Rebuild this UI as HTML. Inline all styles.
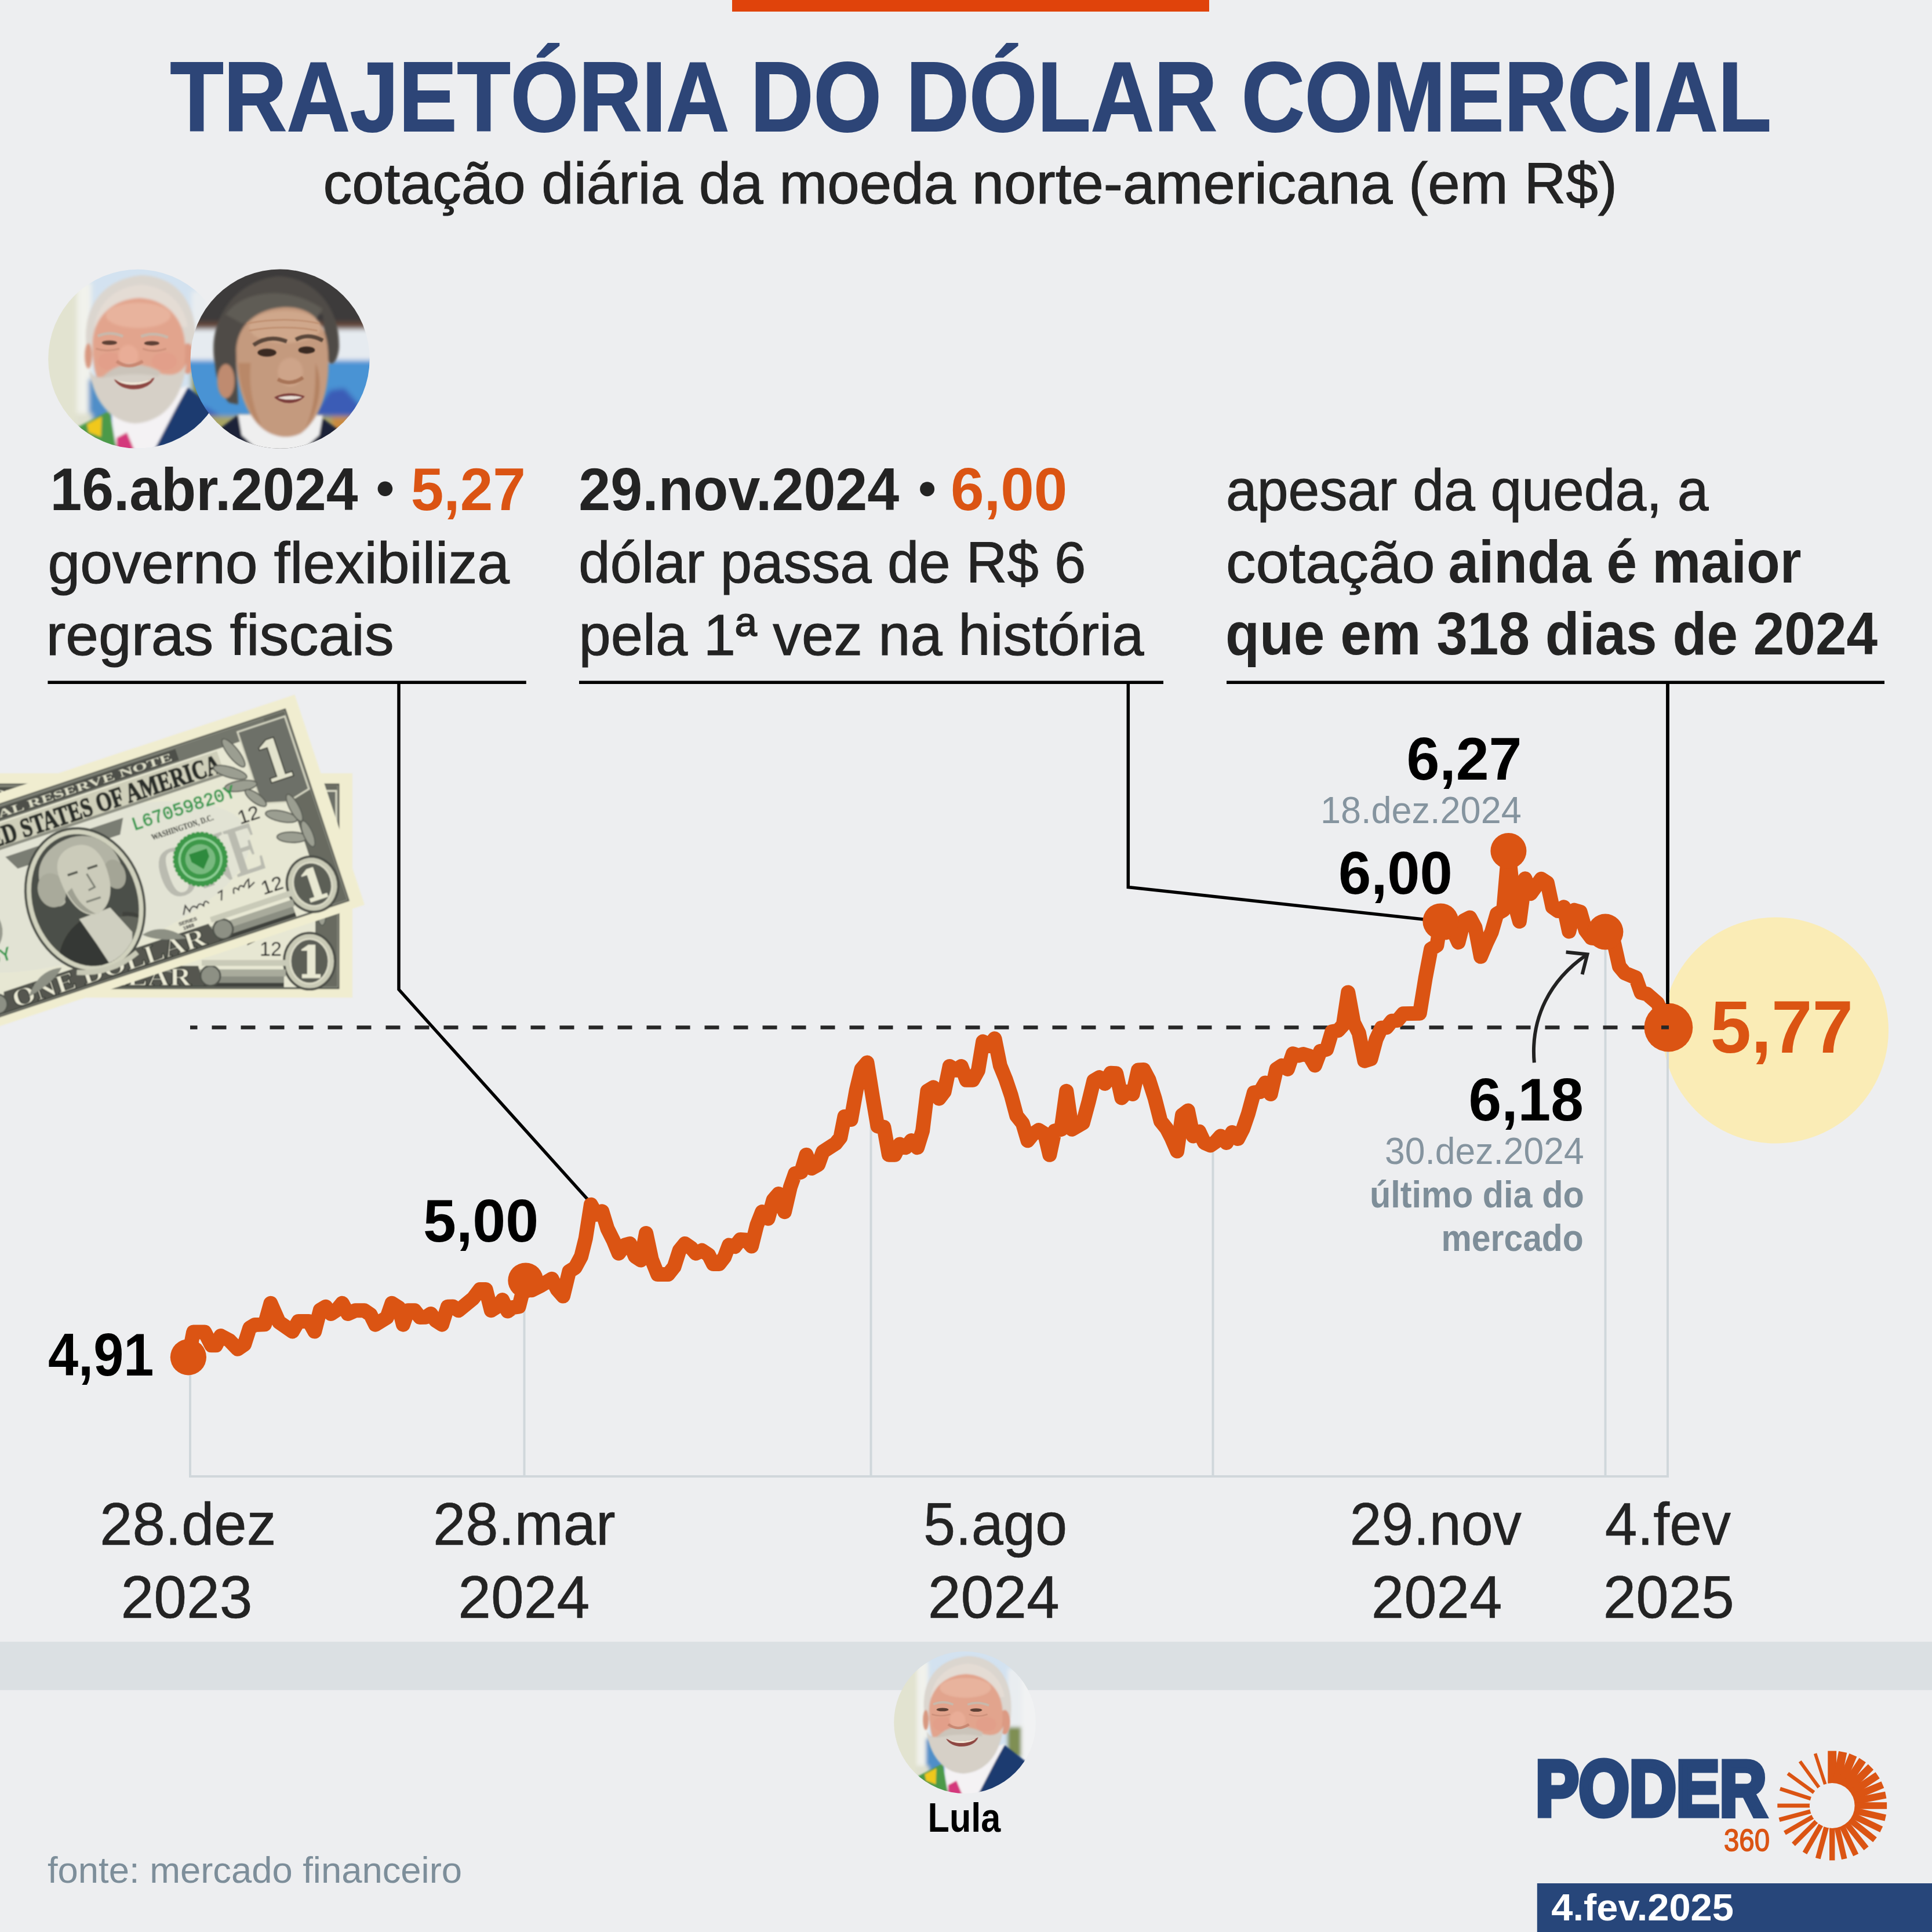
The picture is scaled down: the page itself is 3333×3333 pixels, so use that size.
<!DOCTYPE html>
<html><head><meta charset="utf-8"><title>Trajetória do dólar comercial</title><style>html,body{margin:0;padding:0;background:#edeef0;overflow:hidden}svg{display:block}</style></head><body><svg width="3333" height="3333" viewBox="0 0 3333 3333" font-family="Liberation Sans, sans-serif">
<defs>
<clipPath id="cc"><circle r="1"/></clipPath>
<filter id="b1" x="-20%" y="-20%" width="140%" height="140%"><feGaussianBlur stdDeviation="0.035"/></filter>
<filter id="b2" x="-20%" y="-20%" width="140%" height="140%"><feGaussianBlur stdDeviation="0.012"/></filter>
<filter id="bb" x="-5%" y="-5%" width="110%" height="110%"><feGaussianBlur stdDeviation="0.9"/></filter>
<filter id="pb20" x="-20%" y="-20%" width="140%" height="140%"><feGaussianBlur stdDeviation="14"/></filter>
<filter id="pb10" x="-20%" y="-20%" width="140%" height="140%"><feGaussianBlur stdDeviation="7"/></filter>
<filter id="pb4" x="-20%" y="-20%" width="140%" height="140%"><feGaussianBlur stdDeviation="3"/></filter>


<g id="lula">
 <g clip-path="url(#cc)">
 <g transform="scale(0.002012) translate(-572,-577)">
  <g filter="url(#pb20)">
   <rect x="0" y="0" width="1200" height="1200" fill="#d3e2f0"/>
   <rect x="0" y="0" width="250" height="1200" fill="#e2e3d0"/>
   <rect x="235" y="150" width="80" height="900" fill="#f1f2ec"/>
   <rect x="870" y="200" width="250" height="520" fill="#e9edf0"/>
   <rect x="870" y="610" width="100" height="210" fill="#7f8f52"/>
   <rect x="965" y="200" width="120" height="700" fill="#f1f2f3"/>
   <rect x="300" y="690" width="130" height="230" fill="#4f8ec8"/>
   <rect x="230" y="880" width="90" height="120" fill="#dfe0cf"/>
  </g>
  <g filter="url(#pb10)">
   <!-- hair -->
   <path d="M292 540 C255 320 350 140 590 112 C815 118 915 300 892 540 C860 620 330 620 292 540Z" fill="#dbd6cf"/>
   <path d="M330 400 C350 250 470 170 590 165 C720 170 830 260 850 400Z" fill="#e4dcd4"/>
   <!-- ear -->
   <ellipse cx="850" cy="575" rx="38" ry="85" fill="#dc9a83"/>
   <ellipse cx="298" cy="560" rx="20" ry="70" fill="#d89880"/>
   <!-- face -->
   <path d="M322 520 C310 360 420 245 580 238 C735 245 845 360 836 540 C835 700 760 860 570 880 C400 860 322 700 322 520Z" fill="#e2a48d"/>
   <ellipse cx="575" cy="335" rx="180" ry="70" fill="#e8b39d"/>
   <ellipse cx="420" cy="590" rx="70" ry="50" fill="#e29f8a"/>
   <ellipse cx="720" cy="590" rx="70" ry="50" fill="#e29f8a"/>
   <ellipse cx="520" cy="560" rx="55" ry="60" fill="#e9ad97"/>
   <!-- suit -->
   <path d="M850 735 L1010 860 L1100 1100 L640 1100 Z" fill="#1c3a70"/>
   <!-- shirt -->
   <path d="M430 880 L850 725 L660 1090 L450 1090 Z" fill="#f4f2f4"/>
   <!-- sash -->
   <path d="M230 960 L415 865 L455 1080 L300 1010 Z" fill="#4b9a48"/>
   <path d="M290 940 L372 897 L368 1010 L300 985 Z" fill="#f0c81e"/>
   <!-- tie -->
   <path d="M455 1015 L512 985 L555 1090 L455 1090 Z" fill="#d4387c"/>
   <!-- beard -->
   <path d="M305 640 C320 800 420 930 560 935 C720 925 820 800 842 600 C800 700 700 660 640 640 C560 615 470 620 420 650 C370 690 330 690 305 640Z" fill="#d6d0c7"/>
   <path d="M420 660 C480 610 600 610 690 660 C600 640 500 645 420 660Z" fill="#cbc4ba" stroke="#cbc4ba" stroke-width="30"/>
  </g>
  <g filter="url(#pb4)">
   <path d="M440 690 C500 720 600 715 665 680 C640 760 480 770 440 690Z" fill="#8e4742"/>
   <path d="M455 695 C510 715 590 712 650 688 C620 725 500 735 455 695Z" fill="#f3ead9"/>
   <ellipse cx="415" cy="487" rx="42" ry="12" fill="#5d4034"/>
   <ellipse cx="650" cy="490" rx="42" ry="12" fill="#5d4034"/>
   <path d="M350 450 Q420 420 490 452" stroke="#c9b8aa" stroke-width="16" fill="none"/>
   <path d="M590 452 Q660 425 740 458" stroke="#c9b8aa" stroke-width="16" fill="none"/>
   <path d="M455 590 Q520 640 600 590" stroke="#c98872" stroke-width="18" fill="none"/>
   <path d="M340 520 Q400 540 470 520 M600 520 Q660 545 730 520" stroke="#cf927c" stroke-width="10" fill="none"/>
  </g>
 </g>
 </g>
</g>


<g id="haddad">
 <g clip-path="url(#cc)">
 <g transform="scale(0.00201) translate(-1362.5,-577)">
  <g filter="url(#pb20)">
   <rect x="800" y="0" width="1200" height="1200" fill="#3d3a3b"/>
   <rect x="800" y="375" width="1200" height="40" fill="#6a4c3c"/>
   <rect x="800" y="412" width="1200" height="175" fill="#e6ebf0"/>
   <rect x="800" y="585" width="1200" height="330" fill="#4a93d4"/>
   <path d="M1560 860 L1640 750 L1720 740 L1800 830 L1860 860 L1860 920 L1560 920Z" fill="#3a5cb6"/>
   <path d="M880 830 L960 850 L1040 900 L880 920Z" fill="#3a5cb6"/>
   <rect x="800" y="895" width="1200" height="80" fill="#a8a464"/>
   <rect x="1650" y="900" width="200" height="80" fill="#c98a40"/>
  </g>
  <g filter="url(#pb10)">
   <!-- suit -->
   <path d="M980 1000 L1140 880 L1300 1100 L900 1100Z" fill="#1a2238"/>
   <path d="M1740 1010 L1590 900 L1500 1100 L1800 1100Z" fill="#1a2238"/>
   <!-- shirt -->
   <path d="M1130 885 L1600 890 L1580 1000 L1470 1100 L1260 1100 L1150 1000Z" fill="#efefef"/>
   <!-- hair -->
   <path d="M1000 600 C960 380 1090 150 1350 118 C1560 125 1700 300 1690 520 C1680 600 1640 640 1620 560 L1600 330 L1180 330 L1120 600 L1130 830 L1080 820 C1020 760 1010 680 1000 600Z" fill="#4f4c47"/>
   <path d="M1060 330 C1150 200 1400 160 1600 300 L1560 360 L1150 380Z" fill="#5f5b54"/>
   <!-- ear -->
   <ellipse cx="1062" cy="700" rx="48" ry="95" fill="#bf8b6f"/>
   <!-- face -->
   <path d="M1120 560 C1110 380 1250 290 1400 290 C1540 290 1630 380 1630 560 C1640 720 1600 900 1480 990 C1400 1030 1300 1010 1230 930 C1150 830 1120 700 1120 560Z" fill="#c49a7e"/>
   <ellipse cx="1390" cy="400" rx="200" ry="90" fill="#cfa78b"/>
   <ellipse cx="1420" cy="650" rx="70" ry="80" fill="#cea489"/>
   <path d="M1130 600 C1140 760 1200 900 1260 950 C1200 820 1190 700 1200 600Z" fill="#b98868"/>
   <path d="M1560 600 C1600 700 1590 850 1500 970 C1560 850 1560 720 1560 600Z" fill="#b38262"/>
  </g>
  <g filter="url(#pb4)">
   <ellipse cx="1290" cy="542" rx="52" ry="22" fill="#3b2a22"/>
   <ellipse cx="1510" cy="528" rx="46" ry="20" fill="#3b2a22"/>
   <path d="M1215 500 Q1300 440 1400 480" stroke="#5a473b" stroke-width="22" fill="none"/>
   <path d="M1450 470 Q1520 430 1600 475" stroke="#5a473b" stroke-width="22" fill="none"/>
   <path d="M1330 790 C1390 760 1450 765 1500 785 C1460 830 1380 835 1330 790Z" fill="#7a3d3a"/>
   <path d="M1350 792 C1400 778 1450 780 1485 790 C1450 805 1390 808 1350 792Z" fill="#eadfd6"/>
   <path d="M1350 690 Q1420 730 1490 680" stroke="#a87458" stroke-width="20" fill="none"/>
   <path d="M1180 380 Q1390 340 1580 380 M1190 420 Q1390 385 1570 420" stroke="#bd8d6e" stroke-width="8" fill="none"/>
  </g>
 </g>
 </g>
</g>


<g id="bill">
 <rect width="900" height="382" fill="#f0edd0"/>
 <rect x="24" y="19" width="852" height="347" fill="#e7e7d3" stroke="#50534c" stroke-width="3"/>
 <!-- faint center ghost -->
 <ellipse cx="450" cy="200" rx="300" ry="120" fill="#e2e3d4"/>
 <!-- top band -->
 <rect x="26" y="21" width="848" height="26" fill="#73766c"/>
 <rect x="225" y="24" width="450" height="20" fill="#4d5049"/>
 <text x="235" y="41" font-size="19" font-weight="700" fill="#dedec8" textLength="430" lengthAdjust="spacingAndGlyphs" font-family="Liberation Serif,serif">FEDERAL RESERVE NOTE</text>
 <!-- USA title -->
 <rect x="150" y="50" width="592" height="40" fill="#cfcfba"/>
 <text x="152" y="87" font-size="46" font-weight="700" fill="#2b2e29" stroke="#2b2e29" stroke-width="1.6" textLength="588" lengthAdjust="spacingAndGlyphs" font-family="Liberation Serif,serif">THE UNITED STATES OF AMERICA</text>
 <rect x="150" y="89" width="592" height="5" fill="#8f9184"/>
 <!-- left/right strips -->
 <rect x="26" y="21" width="38" height="343" fill="#676a61"/>
 <rect x="836" y="21" width="38" height="343" fill="#676a61"/>
 <!-- cartouches -->
 <path d="M786 30 h86 v132 l-42 10 l-44 -12 z" fill="#6d7067" stroke="#d8d8c4" stroke-width="3"/>
 <path d="M114 30 h-86 v132 l42 10 l44 -12 z" fill="#6d7067" stroke="#d8d8c4" stroke-width="3"/>
 <path d="M812 68 l16 -10 h14 v66 h12 v8 h-40 v-8 h12 v-52 h-14z" fill="#e3e3cd" stroke="#3c3f39" stroke-width="2"/>
 <path d="M60 68 l16 -10 h14 v66 h12 v8 h-40 v-8 h12 v-52 h-14z" fill="#e3e3cd" stroke="#3c3f39" stroke-width="2"/>
 <!-- leaves -->
 <g fill="#9b9e91" stroke="#5b5e56" stroke-width="2">
  <ellipse cx="768" cy="62" rx="9" ry="30" transform="rotate(-20 768 62)"/>
  <ellipse cx="752" cy="92" rx="9" ry="30" transform="rotate(-55 752 92)"/>
  <ellipse cx="762" cy="120" rx="9" ry="28" transform="rotate(-80 762 120)"/>
  <ellipse cx="780" cy="148" rx="8" ry="22" transform="rotate(-35 780 148)"/>
  <ellipse cx="812" cy="192" rx="9" ry="28" transform="rotate(-60 812 192)"/>
  <ellipse cx="838" cy="185" rx="8" ry="26" transform="rotate(-10 838 185)"/>
  <ellipse cx="818" cy="232" rx="9" ry="26" transform="rotate(-70 818 232)"/>
  <ellipse cx="846" cy="235" rx="8" ry="24" transform="rotate(-5 846 235)"/>
  <ellipse cx="132" cy="62" rx="9" ry="30" transform="rotate(20 132 62)"/>
  <ellipse cx="148" cy="92" rx="9" ry="30" transform="rotate(55 148 92)"/>
  <ellipse cx="88" cy="192" rx="9" ry="28" transform="rotate(60 88 192)"/>
  <ellipse cx="82" cy="232" rx="9" ry="26" transform="rotate(70 82 232)"/>
 </g>
 <!-- corner ovals -->
 <ellipse cx="826" cy="320" rx="44" ry="48" fill="#c9cab6" stroke="#4b4e47" stroke-width="4"/>
 <ellipse cx="826" cy="320" rx="33" ry="38" fill="#5b5e56" stroke="#dcdcc8" stroke-width="3"/>
 <path d="M812 300 l12 -8 h12 v50 h9 v7 h-32 v-7 h9 v-40 h-10z" fill="#e8e8d2"/>
 <ellipse cx="74" cy="320" rx="44" ry="48" fill="#c9cab6" stroke="#4b4e47" stroke-width="4"/>
 <ellipse cx="74" cy="320" rx="33" ry="38" fill="#5b5e56" stroke="#dcdcc8" stroke-width="3"/>
 <path d="M60 300 l12 -8 h12 v50 h9 v7 h-32 v-7 h9 v-40 h-10z" fill="#e8e8d2"/>
 <!-- bottom band -->
 <rect x="118" y="340" width="664" height="24" fill="#8b8e82"/>
 <rect x="600" y="334" width="185" height="12" fill="#a9ab9c"/>
 <rect x="118" y="357" width="664" height="7" fill="#3f423c"/>
 <path d="M262 328 h372 l10 34 h-392z" fill="#54574f"/>
 <text x="272" y="361" font-size="44" font-weight="700" fill="#ecebd6" stroke="#1f211e" stroke-width="1.2" textLength="350" lengthAdjust="spacingAndGlyphs" font-family="Liberation Serif,serif">ONE DOLLAR</text>
 <circle cx="655" cy="345" r="17" fill="#8d9084" stroke="#50534c" stroke-width="3"/>
 <circle cx="245" cy="345" r="17" fill="#8d9084" stroke="#50534c" stroke-width="3"/>
 <!-- ONE ghost -->
 <text x="578" y="268" font-size="128" font-weight="700" fill="#babbb0" textLength="185" lengthAdjust="spacingAndGlyphs" font-family="Liberation Serif,serif">ONE</text>
 <!-- green seal -->
 <circle cx="656" cy="218" r="46" fill="#3c9848" stroke="#3c9848" stroke-width="3" stroke-dasharray="5 3"/>
 <circle cx="656" cy="218" r="36" fill="none" stroke="#8fcf96" stroke-width="4"/>
 <circle cx="656" cy="218" r="26" fill="#78b97f"/>
 <path d="M640 204 h32 v14 l-16 18 l-16 -18z" fill="#2f8a3d"/>
 <!-- black seal left -->
 <circle cx="250" cy="215" r="45" fill="#9a9c90"/>
 <circle cx="250" cy="215" r="30" fill="#c5c6b6"/>
 <!-- serials -->
 <text x="563" y="135" font-size="31" fill="#36984d" stroke="#36984d" stroke-width="0.8" textLength="186" lengthAdjust="spacingAndGlyphs" font-family="Liberation Mono,monospace">L67059820Y</text>
 <text x="108" y="278" font-size="31" fill="#36984d" stroke="#36984d" stroke-width="0.8" textLength="186" lengthAdjust="spacingAndGlyphs" font-family="Liberation Mono,monospace">L67059820Y</text>
 <text x="588" y="161" font-size="15" font-weight="700" fill="#30332e" textLength="112" lengthAdjust="spacingAndGlyphs" font-family="Liberation Serif,serif">WASHINGTON, D.C.</text>
 <text x="740" y="183" font-size="34" fill="#1d1d1d">12</text>
 <text x="740" y="311" font-size="34" fill="#1d1d1d">12</text>
 <text x="128" y="183" font-size="34" fill="#1d1d1d">12</text>
 <path d="M598 300 l8 -14 l4 12 q8 -12 14 -2 q6 -10 12 0 q5 -12 10 -1 m22 2 l6 -16 l-8 2 m26 10 q2 -16 10 -4 q4 -10 10 -2 q6 -8 12 -10 l-4 14 l12 -6" stroke="#2c2c2c" stroke-width="2.2" fill="none"/>
 <text x="585" y="316" font-size="9" font-weight="700" fill="#333">SERIES</text>
 <text x="590" y="325" font-size="9" font-weight="700" fill="#333">1988</text>
 <rect x="640" y="318" width="150" height="10" fill="#c9cab8"/>
 <!-- portrait frame -->
 <path d="M338 108 h214 l-14 26 h-186z" fill="#7a7d73"/>
 <ellipse cx="445" cy="222" rx="100" ry="126" fill="#d0d1bd" stroke="#4a4d46" stroke-width="4"/>
 <ellipse cx="445" cy="222" rx="90" ry="116" fill="#4c4f48"/>
 <clipPath id="ov"><ellipse cx="445" cy="222" rx="90" ry="116"/></clipPath>
 <g clip-path="url(#ov)">
  <!-- coat -->
  <path d="M360 345 C365 290 395 262 430 255 L470 330 L500 262 C530 270 545 290 548 345Z" fill="#34373280"/>
  <path d="M360 345 C365 290 395 262 432 252 L478 345Z" fill="#363934"/>
  <path d="M490 268 C525 272 545 295 548 345 L480 345Z" fill="#62655c"/>
  <!-- jabot -->
  <path d="M425 250 L482 248 L505 300 L490 345 L452 345 L440 300Z" fill="#cfcfc0"/>
  <!-- hair -->
  <path d="M382 190 C372 150 400 112 455 112 C500 114 530 150 522 200 C520 220 500 225 492 210 L480 150 L420 150 L412 215 C400 225 385 215 382 190Z" fill="#b3b4a5"/>
  <ellipse cx="396" cy="188" rx="24" ry="30" fill="#a9aa9b"/>
  <ellipse cx="508" cy="196" rx="18" ry="26" fill="#a4a596"/>
  <!-- face -->
  <path d="M415 170 C415 135 440 125 462 128 C490 132 500 160 497 195 C495 225 480 250 455 252 C430 248 415 215 415 170Z" fill="#cbcbba"/>
  <path d="M430 172 h18 M466 172 h18" stroke="#55584f" stroke-width="4"/>
  <path d="M462 180 l6 26 l-12 2 M446 226 h26" stroke="#777a6f" stroke-width="3" fill="none"/>
  <path d="M420 200 C425 230 440 248 455 250 C440 235 432 220 430 195Z" fill="#9fa092"/>
 </g>
 <!-- laurel at base -->
 <path d="M300 350 q30 -40 70 -30 q-20 20 -70 30z M590 340 q-30 -40 -70 -30 q20 20 70 30z" fill="#8d9084"/>
 <path d="M392 336 q55 22 110 0" stroke="#c8c9b6" stroke-width="9" fill="none"/>
</g>

</defs>
<rect width="3333" height="3333" fill="#edeef0"/>
<rect x="1263" y="0" width="823" height="20" fill="#e0430b"/>
<text x="293.5" y="225.9" font-size="170" font-weight="700" fill="#2d4577" textLength="2762.5" lengthAdjust="spacingAndGlyphs" stroke="#2d4577" stroke-width="2">TRAJETÓRIA DO DÓLAR COMERCIAL</text>
<text x="557.5" y="351.4" font-size="101" font-weight="400" fill="#232323" textLength="2232.5" lengthAdjust="spacingAndGlyphs" stroke="#232323" stroke-width="1.1">cotação diária da moeda norte-americana (em R$)</text>
<use href="#lula" transform="translate(237.6,619.2) scale(154.4)"/>
<use href="#haddad" transform="translate(483.1,619.2) scale(154.6)"/>
<g filter="url(#bb)">
<use href="#bill" transform="translate(-292,1334) scale(1,1.013)"/>
<use href="#bill" transform="translate(508.4,1198.4) rotate(-18.4) translate(-900,0)"/>
</g>
<rect x="0" y="2832.3" width="3333" height="83.4" fill="#dbe0e3"/>
<text x="86.4" y="880.2" font-size="104" font-weight="700" fill="#232323" textLength="531.0" lengthAdjust="spacingAndGlyphs" >16.abr.2024</text>
<circle cx="664.4" cy="843.3" r="12.8" fill="#232323"/>
<text x="708.8" y="880.2" font-size="104" font-weight="700" fill="#db5413" textLength="198.0" lengthAdjust="spacingAndGlyphs" >5,27</text>
<text x="82.4" y="1005.5" font-size="101" font-weight="400" fill="#232323" textLength="796.7" lengthAdjust="spacingAndGlyphs" stroke="#232323" stroke-width="1.1">governo flexibiliza</text>
<text x="79.4" y="1129.6" font-size="101" font-weight="400" fill="#232323" textLength="600.4" lengthAdjust="spacingAndGlyphs" stroke="#232323" stroke-width="1.1">regras fiscais</text>
<text x="998.3" y="880.4" font-size="104" font-weight="700" fill="#232323" textLength="553.0" lengthAdjust="spacingAndGlyphs" >29.nov.2024</text>
<circle cx="1599.6" cy="843.7" r="12.5" fill="#232323"/>
<text x="1640.0" y="880.4" font-size="104" font-weight="700" fill="#db5413" textLength="201.4" lengthAdjust="spacingAndGlyphs" >6,00</text>
<text x="998.3" y="1005" font-size="101" font-weight="400" fill="#232323" textLength="875.0" lengthAdjust="spacingAndGlyphs" stroke="#232323" stroke-width="1.1">dólar passa de R$ 6</text>
<text x="998.5" y="1130" font-size="101" font-weight="400" fill="#232323" textLength="974.9" lengthAdjust="spacingAndGlyphs" stroke="#232323" stroke-width="1.1">pela 1ª vez na história</text>
<text x="2115.0" y="879.6" font-size="101" font-weight="400" fill="#232323" textLength="832.6" lengthAdjust="spacingAndGlyphs" stroke="#232323" stroke-width="1.1">apesar da queda, a</text>
<text x="2115.0" y="1004.8" font-size="101" font-weight="400" fill="#232323" textLength="360.5" lengthAdjust="spacingAndGlyphs" stroke="#232323" stroke-width="1.1">cotação</text>
<text x="2498.5" y="1004.8" font-size="104" font-weight="700" fill="#232323" textLength="608.9" lengthAdjust="spacingAndGlyphs" >ainda é maior</text>
<text x="2114.0" y="1129" font-size="104" font-weight="700" fill="#232323" textLength="1125.2" lengthAdjust="spacingAndGlyphs" >que em 318 dias de 2024</text>
<g stroke="#000" stroke-width="5.5" fill="none">
<path d="M82.4 1177.2H907.8"/>
<path d="M999 1177.2H2007"/>
<path d="M2116 1177.2H3251"/>
<path d="M688 1177V1707L1019 2075"/>
<path d="M1946.3 1177V1530.5L2456 1586"/>
<path d="M2877 1177V1732"/>
</g>
<g stroke="#d0d7db" stroke-width="4" fill="none">
<path d="M326 2547H2878"/>
<path d="M328 2327.0V2549"/>
<path d="M904.5 2217.9V2549"/>
<path d="M1502.5 1874.0V2549"/>
<path d="M2092.5 1973.0V2549"/>
<path d="M2769.5 1607.7V2549"/>
</g>
<circle cx="3063" cy="1777.5" r="195" fill="#faecb6"/>
<path d="M2877 1780V2549" stroke="#d0d7db" stroke-width="4"/>
<path d="M328 1772.4H2879" stroke="#272727" stroke-width="6.5" stroke-dasharray="25 25" stroke-dashoffset="12.5"/>
<polyline points="325.1,2342.0 333.6,2298.0 353.1,2298.0 364.7,2320.8 372.5,2320.8 380.7,2304.5 395.8,2312.5 410.0,2327.3 421.6,2319.5 430.7,2291.0 439.8,2285.4 456.6,2284.8 466.9,2248.3 481.2,2280.7 504.5,2297.0 514.8,2279.4 532.9,2279.4 542.8,2297.0 552.3,2260.0 561.9,2254.3 571.0,2266.5 580.8,2260.0 590.4,2248.3 600.2,2266.5 613.1,2260.8 628.7,2260.8 639.0,2267.8 647.6,2285.1 667.5,2272.9 676.0,2248.3 688.2,2256.1 695.4,2285.1 703.7,2260.8 715.4,2260.8 724.4,2272.4 734.8,2272.2 743.3,2266.5 751.6,2278.1 762.5,2285.1 772.3,2254.3 781.4,2254.0 790.9,2260.8 816.2,2240.0 827.9,2224.5 838.2,2224.5 847.3,2260.7 857.6,2254.2 866.7,2242.6 875.8,2262.0 884.8,2255.5 895.2,2254.2 906.8,2208.9 917.2,2225.7 932.7,2218.0 952.1,2206.3 961.2,2224.5 971.5,2236.1 981.9,2193.4 992.2,2186.9 1002.6,2167.5 1010.3,2136.5 1019.4,2078.2 1029.0,2095.1 1038.8,2089.9 1047.9,2119.6 1058.2,2140.3 1067.3,2162.3 1077.6,2148.1 1086.7,2145.5 1095.7,2167.5 1105.6,2174.0 1114.6,2127.4 1124.2,2172.7 1134.6,2198.6 1152.7,2198.6 1163.0,2185.6 1172.1,2157.2 1181.7,2145.5 1192.8,2153.3 1200.5,2162.3 1210.9,2157.2 1222.5,2164.9 1230.3,2180.5 1240.7,2180.5 1249.7,2168.8 1257.5,2148.1 1267.8,2150.7 1277.2,2138.4 1287.5,2139.2 1296.6,2150.1 1305.6,2113.9 1314.7,2090.6 1325.1,2102.2 1334.1,2069.9 1343.2,2059.5 1353.5,2090.6 1363.4,2047.9 1371.6,2024.6 1382.0,2022.0 1391.0,1992.2 1400.1,2015.5 1411.7,2009.0 1419.5,1987.0 1441.5,1972.8 1449.8,1962.5 1457.0,1926.2 1468.2,1931.4 1477.2,1880.9 1486.0,1844.7 1495.9,1833.1 1505.7,1893.9 1514.0,1943.0 1524.8,1944.3 1533.4,1992.2 1543.7,1992.2 1552.3,1974.1 1562.6,1979.8 1572.2,1967.6 1582.6,1979.8 1591.6,1950.8 1599.9,1882.2 1610.2,1875.8 1620.1,1895.2 1629.1,1883.5 1638.2,1839.5 1649.3,1846.0 1658.4,1839.5 1667.2,1863.3 1678.3,1863.3 1687.4,1846.8 1695.7,1796.8 1705.5,1804.6 1716.0,1791.8 1725.4,1838.3 1734.9,1861.6 1744.5,1890.1 1753.8,1925.0 1764.2,1938.0 1773.0,1967.7 1782.3,1956.1 1791.9,1949.6 1802.2,1956.1 1810.8,1992.3 1819.6,1950.9 1830.7,1948.3 1839.8,1882.3 1849.3,1948.3 1868.2,1937.2 1878.1,1900.5 1886.9,1864.2 1896.7,1858.5 1906.3,1869.4 1916.1,1851.3 1925.7,1851.8 1935.0,1894.0 1944.6,1883.6 1954.1,1887.5 1963.5,1846.1 1973.0,1845.6 1982.1,1862.9 1992.4,1895.3 2002.3,1934.1 2012.6,1947.0 2020.9,1963.1 2030.7,1985.9 2039.5,1923.7 2049.4,1916.0 2058.4,1960.0 2068.8,1952.2 2077.8,1971.6 2088.2,1976.0 2096.5,1970.3 2105.8,1960.0 2115.9,1971.6 2125.7,1953.5 2135.6,1964.6 2144.6,1947.0 2153.4,1921.2 2163.3,1884.9 2173.6,1883.6 2182.7,1868.1 2192.2,1887.5 2202.0,1844.4 2211.1,1838.5 2221.4,1844.4 2230.5,1817.8 2239.5,1821.1 2248.6,1818.6 2258.9,1821.7 2268.5,1838.0 2277.8,1813.4 2288.7,1810.3 2297.8,1779.7 2308.6,1777.7 2317.2,1768.1 2325.7,1711.9 2335.3,1764.2 2344.3,1782.3 2353.9,1830.2 2365.0,1826.8 2374.1,1792.7 2383.2,1773.3 2392.2,1772.5 2401.3,1761.1 2411.1,1760.3 2420.7,1748.7 2449.2,1748.2 2459.0,1687.9 2468.6,1637.4 2478.9,1630.9 2485.4,1589.5 2494.4,1608.9 2506.6,1605.0 2515.9,1625.7 2525.5,1588.2 2535.8,1583.0 2544.9,1599.9 2554.5,1650.3 2564.3,1627.0 2573.4,1607.6 2582.4,1576.6 2593.6,1570.1 2602.4,1467.9 2611.6,1554.6 2621.4,1589.5 2631.0,1515.8 2640.8,1541.6 2658.9,1516.3 2669.3,1523.0 2678.3,1564.9 2687.4,1571.4 2697.8,1564.9 2706.8,1606.9 2715.9,1570.1 2726.2,1573.2 2735.3,1605.0 2745.1,1618.0 2756.0,1619.3 2769.4,1607.6 2784.5,1627.0 2793.5,1667.2 2803.1,1678.8 2822.0,1686.6 2831.0,1712.4 2841.4,1715.0 2859.5,1730.6 2877.6,1772.5" fill="none" stroke="#db5413" stroke-width="25" stroke-linejoin="round" stroke-linecap="round"/>
<circle cx="324.9" cy="2341.3" r="31.1" fill="#db5413"/>
<circle cx="906.8" cy="2208.9" r="30.5" fill="#db5413"/>
<circle cx="2485.4" cy="1589.5" r="31" fill="#db5413"/>
<circle cx="2602.4" cy="1467.9" r="31" fill="#db5413"/>
<circle cx="2769.4" cy="1607.6" r="31" fill="#db5413"/>
<circle cx="2878.4" cy="1772.5" r="41.9" fill="#db5413"/>
<path d="M2866 1772.4H2879" stroke="#272727" stroke-width="6.5"/>
<path d="M2877 1177V1732" stroke="#000" stroke-width="5.5"/>
<g stroke="#222" stroke-width="6" fill="none"><path d="M2646.8 1833.3C2640 1755 2675 1690 2736 1648"/><path d="M2701.6 1642.6L2738.4 1646.4L2729.6 1680.9"/></g>
<text x="83.0" y="2372.9" font-size="103" font-weight="700" fill="#000" textLength="182.4" lengthAdjust="spacingAndGlyphs" >4,91</text>
<text x="730.0" y="2142.2" font-size="103" font-weight="700" fill="#000" textLength="199.1" lengthAdjust="spacingAndGlyphs" >5,00</text>
<text x="2309.0" y="1541.6" font-size="103" font-weight="700" fill="#000" textLength="196.8" lengthAdjust="spacingAndGlyphs" >6,00</text>
<text x="2426.4" y="1345.3" font-size="103" font-weight="700" fill="#000" textLength="199.1" lengthAdjust="spacingAndGlyphs" >6,27</text>
<text x="2278.0" y="1420" font-size="64.5" font-weight="400" fill="#85949f" textLength="346.7" lengthAdjust="spacingAndGlyphs" >18.dez.2024</text>
<text x="2533.6" y="1933" font-size="103" font-weight="700" fill="#000" textLength="198.3" lengthAdjust="spacingAndGlyphs" >6,18</text>
<text x="2389.0" y="2008" font-size="64.5" font-weight="400" fill="#85949f" textLength="343.7" lengthAdjust="spacingAndGlyphs" >30.dez.2024</text>
<text x="2363.0" y="2082.8" font-size="65" font-weight="700" fill="#7e8e99" textLength="369.8" lengthAdjust="spacingAndGlyphs" >último dia do</text>
<text x="2486.4" y="2157.6" font-size="65" font-weight="700" fill="#7e8e99" textLength="245.4" lengthAdjust="spacingAndGlyphs" >mercado</text>
<text x="2950.4" y="1815.5" font-size="128.5" font-weight="700" fill="#db5413" textLength="246.7" lengthAdjust="spacingAndGlyphs" >5,77</text>
<text x="172.0" y="2665.4" font-size="103.5" font-weight="400" fill="#232323" textLength="304.4" lengthAdjust="spacingAndGlyphs" stroke="#232323" stroke-width="0.6">28.dez</text>
<text x="208.6" y="2790.5" font-size="103.5" font-weight="400" fill="#232323" textLength="227.0" lengthAdjust="spacingAndGlyphs" stroke="#232323" stroke-width="0.6">2023</text>
<text x="747.0" y="2665.4" font-size="103.5" font-weight="400" fill="#232323" textLength="314.8" lengthAdjust="spacingAndGlyphs" stroke="#232323" stroke-width="0.6">28.mar</text>
<text x="790.3" y="2790.5" font-size="103.5" font-weight="400" fill="#232323" textLength="227.1" lengthAdjust="spacingAndGlyphs" stroke="#232323" stroke-width="0.6">2024</text>
<text x="1593.0" y="2665.4" font-size="103.5" font-weight="400" fill="#232323" textLength="248.2" lengthAdjust="spacingAndGlyphs" stroke="#232323" stroke-width="0.6">5.ago</text>
<text x="1600.7" y="2790.5" font-size="103.5" font-weight="400" fill="#232323" textLength="227.1" lengthAdjust="spacingAndGlyphs" stroke="#232323" stroke-width="0.6">2024</text>
<text x="2328.4" y="2665.4" font-size="103.5" font-weight="400" fill="#232323" textLength="296.6" lengthAdjust="spacingAndGlyphs" stroke="#232323" stroke-width="0.6">29.nov</text>
<text x="2365.8" y="2790.5" font-size="103.5" font-weight="400" fill="#232323" textLength="225.5" lengthAdjust="spacingAndGlyphs" stroke="#232323" stroke-width="0.6">2024</text>
<text x="2768.8" y="2665.4" font-size="103.5" font-weight="400" fill="#232323" textLength="217.2" lengthAdjust="spacingAndGlyphs" stroke="#232323" stroke-width="0.6">4.fev</text>
<text x="2765.7" y="2790.5" font-size="103.5" font-weight="400" fill="#232323" textLength="226.0" lengthAdjust="spacingAndGlyphs" stroke="#232323" stroke-width="0.6">2025</text>
<use href="#lula" transform="translate(1664.7,2971.5) scale(122.5)"/>
<text x="1600.6" y="3160" font-size="70" font-weight="700" fill="#000" textLength="125.6" lengthAdjust="spacingAndGlyphs" >Lula</text>
<text x="82.0" y="3247.8" font-size="63" font-weight="400" fill="#7d8e9a" textLength="715.0" lengthAdjust="spacingAndGlyphs" >fonte: mercado financeiro</text>
<text x="2648.9" y="3132.4" font-size="136" font-weight="700" fill="#27467a" textLength="398.4" lengthAdjust="spacingAndGlyphs" stroke="#27467a" stroke-width="9" stroke-linejoin="miter">PODER</text>
<text x="2974.0" y="3193.2" font-size="53" font-weight="400" fill="#db5413" textLength="79.0" lengthAdjust="spacingAndGlyphs" stroke="#db5413" stroke-width="1.5">360</text>
<g transform="translate(3160.7,3115.0)" fill="#db5413"><rect x="-7.45" y="-94.4" width="14.90" height="58.400000000000006" transform="rotate(0.00)"/><rect x="-7.24" y="-94.4" width="14.49" height="58.400000000000006" transform="rotate(11.25)"/><rect x="-7.04" y="-94.4" width="14.07" height="58.400000000000006" transform="rotate(22.50)"/><rect x="-6.83" y="-94.4" width="13.66" height="58.400000000000006" transform="rotate(33.75)"/><rect x="-6.62" y="-94.4" width="13.25" height="58.400000000000006" transform="rotate(45.00)"/><rect x="-6.42" y="-94.4" width="12.84" height="58.400000000000006" transform="rotate(56.25)"/><rect x="-6.21" y="-94.4" width="12.43" height="58.400000000000006" transform="rotate(67.50)"/><rect x="-6.01" y="-94.4" width="12.01" height="58.400000000000006" transform="rotate(78.75)"/><rect x="-5.80" y="-94.4" width="11.60" height="58.400000000000006" transform="rotate(90.00)"/><rect x="-5.64" y="-94.4" width="11.29" height="58.400000000000006" transform="rotate(102.86)"/><rect x="-5.49" y="-94.4" width="10.97" height="58.400000000000006" transform="rotate(115.71)"/><rect x="-5.33" y="-94.4" width="10.66" height="58.400000000000006" transform="rotate(128.57)"/><rect x="-5.17" y="-94.4" width="10.34" height="58.400000000000006" transform="rotate(141.43)"/><rect x="-5.01" y="-94.4" width="10.03" height="58.400000000000006" transform="rotate(154.29)"/><rect x="-4.86" y="-94.4" width="9.71" height="58.400000000000006" transform="rotate(167.14)"/><rect x="-4.70" y="-94.4" width="9.40" height="58.400000000000006" transform="rotate(180.00)"/><rect x="-4.50" y="-94.4" width="9.00" height="58.400000000000006" transform="rotate(195.00)"/><rect x="-4.30" y="-94.4" width="8.60" height="58.400000000000006" transform="rotate(210.00)"/><rect x="-4.10" y="-94.4" width="8.20" height="58.400000000000006" transform="rotate(225.00)"/><rect x="-3.90" y="-94.4" width="7.80" height="58.400000000000006" transform="rotate(240.00)"/><rect x="-3.70" y="-94.4" width="7.40" height="58.400000000000006" transform="rotate(255.00)"/><rect x="-3.50" y="-94.4" width="7.00" height="58.400000000000006" transform="rotate(270.00)"/><rect x="-3.33" y="-94.4" width="6.65" height="58.400000000000006" transform="rotate(288.00)"/><rect x="-3.15" y="-94.4" width="6.30" height="58.400000000000006" transform="rotate(306.00)"/><rect x="-2.97" y="-94.4" width="5.95" height="58.400000000000006" transform="rotate(324.00)"/><rect x="-2.80" y="-94.4" width="5.60" height="58.400000000000006" transform="rotate(342.00)"/><circle r="38.9" fill="#edeef0"/></g>
<rect x="2651.8" y="3249" width="700" height="90" fill="#27467a"/>
<text x="2676.2" y="3313" font-size="65" font-weight="700" fill="#fff" textLength="314.8" lengthAdjust="spacingAndGlyphs" >4.fev.2025</text>
</svg></body></html>
